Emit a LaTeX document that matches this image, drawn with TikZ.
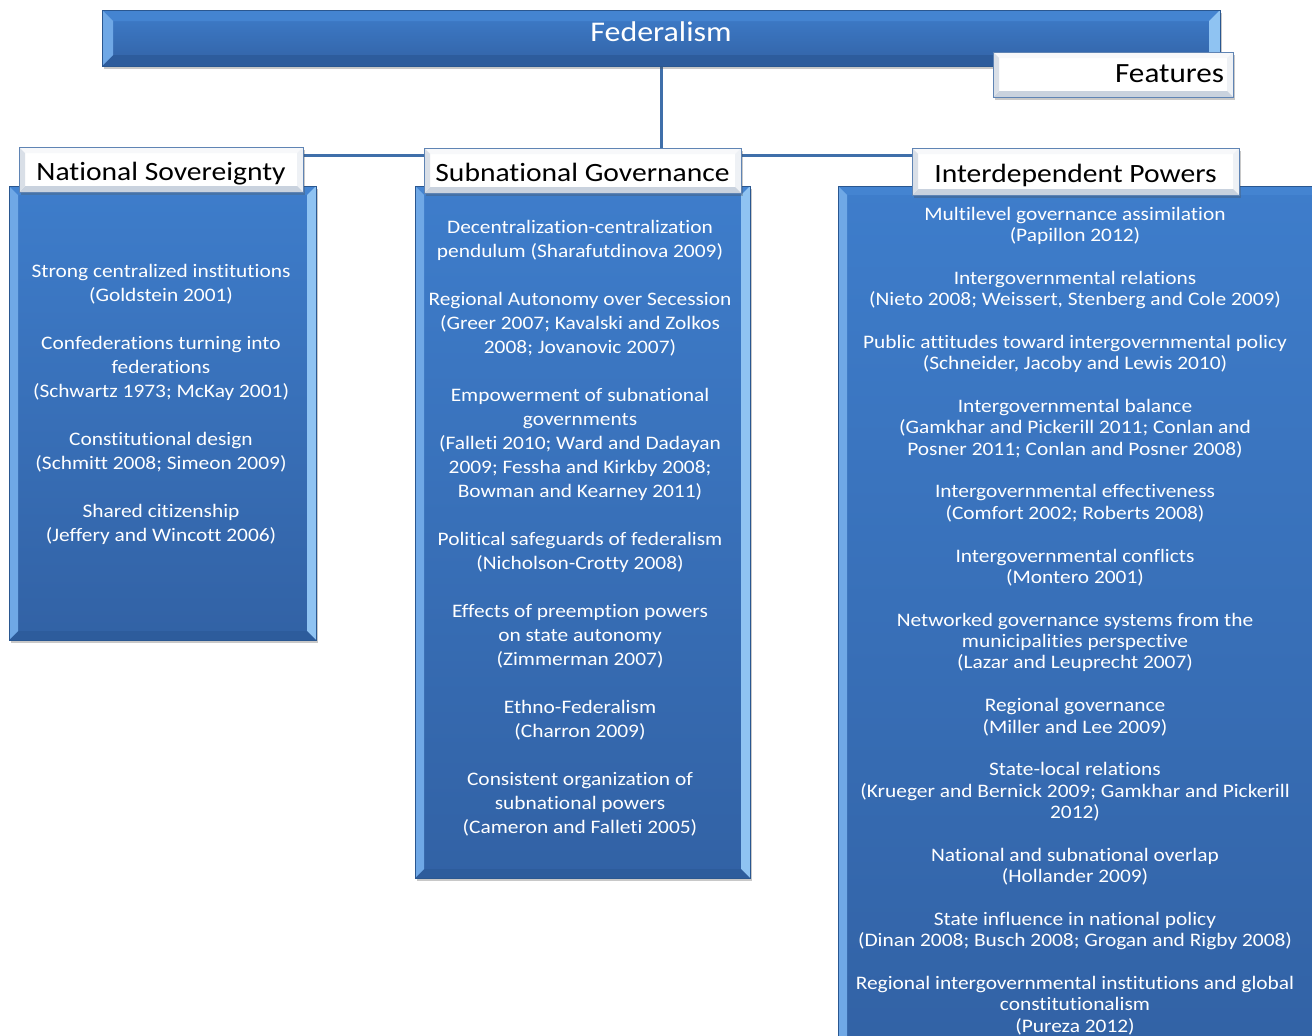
\documentclass[tikz,border=0pt]{standalone}
\usepackage{fontspec}
\setmainfont{Carlito}[FakeStretch=1.12, Ligatures={NoCommon}]
\usetikzlibrary{shadows,calc}
\pgfdeclarelayer{bg}
\pgfsetlayers{bg,main}
\definecolor{bTop}{HTML}{3E7DCB}
\definecolor{bBot}{HTML}{3262A5}
\definecolor{bFaceL}{HTML}{6FA8E6}
\definecolor{bFaceR}{HTML}{8FC3F2}
\definecolor{bFaceB}{HTML}{2D5C9C}
\definecolor{bFaceT}{HTML}{4484D1}
\definecolor{bBorder}{HTML}{2A5790}
\definecolor{connC}{HTML}{3F6FAA}
\definecolor{wFaceT}{HTML}{F7F8FA}
\definecolor{wFaceL}{HTML}{D9DFE7}
\definecolor{wFaceB}{HTML}{C9D2DE}
\definecolor{wFaceR}{HTML}{EEF1F5}
\definecolor{wBorder}{HTML}{5F84B4}
\begin{document}
\begin{tikzpicture}[x=1pt,y=-1pt,
  bevel/.style n args={5}{path picture={
    \fill[#2] (path picture bounding box.north west) -- (path picture bounding box.north east) -- ([xshift=-#1pt,yshift=-#1pt]path picture bounding box.north east) -- ([xshift=#1pt,yshift=-#1pt]path picture bounding box.north west) -- cycle;
    \fill[#3] (path picture bounding box.north east) -- (path picture bounding box.south east) -- ([xshift=-#1pt,yshift=#1pt]path picture bounding box.south east) -- ([xshift=-#1pt,yshift=-#1pt]path picture bounding box.north east) -- cycle;
    \fill[#4] (path picture bounding box.south east) -- (path picture bounding box.south west) -- ([xshift=#1pt,yshift=#1pt]path picture bounding box.south west) -- ([xshift=-#1pt,yshift=#1pt]path picture bounding box.south east) -- cycle;
    \fill[#5] (path picture bounding box.south west) -- (path picture bounding box.north west) -- ([xshift=#1pt,yshift=-#1pt]path picture bounding box.north west) -- ([xshift=#1pt,yshift=#1pt]path picture bounding box.south west) -- cycle;
  }},
  shadowed/.style={drop shadow={shadow xshift=2pt, shadow yshift=-3pt, opacity=0.3, fill=black!70}},
  blueBody/.style={rectangle, inner sep=0pt, outer sep=0pt, anchor=north west,
    top color=bTop, bottom color=bBot, draw=bBorder, line width=0.6pt, shadowed,
    bevel={9}{bFaceT}{bFaceR}{bFaceB}{bFaceL}},
  fedBar/.style={rectangle, inner sep=0pt, outer sep=0pt, anchor=north west,
    top color=bTop, bottom color=bBot, draw=bBorder, line width=0.6pt, shadowed,
    bevel={11}{bFaceT}{bFaceR}{bFaceB}{bFaceL}},
  whiteHead/.style={rectangle, inner sep=0pt, outer sep=0pt, anchor=north west,
    fill=white, draw=wBorder, line width=0.8pt, shadowed,
    bevel={6}{wFaceT}{wFaceR}{wFaceB}{wFaceL},
    font=\fontsize{26.4}{30}\selectfont, text=black, text height=22pt, text depth=1pt},
  bodyTxt/.style={anchor=north, align=center, text=white, inner sep=0pt},
  connector/.style={draw=connC, line width=3pt},
]
\clip (0,0) rectangle (1312,1036);
\begin{pgfonlayer}{bg}
\fill[white] (0,0) rectangle (1312,1036);
\end{pgfonlayer}

% top bar
\node[fedBar, minimum width=1118pt, minimum height=56pt] (fed) at (102,10) {};
\node[text=white, font=\fontsize{28.5}{32}\selectfont, inner sep=0pt, anchor=base] (fedt) at (661,41.5) {Federalism};
\node[whiteHead, text width=222pt, align=right, inner xsep=9pt, minimum height=45pt,
  font=\fontsize{27.8}{32}\selectfont, text height=18pt, text depth=1.5pt] (feat) at (993,52) {Features};

% bodies
\node[blueBody, minimum width=307pt, minimum height=454pt] (nsb) at (9,186) {};
\node[blueBody, minimum width=335pt, minimum height=692pt] (sgb) at (415,186) {};
\node[blueBody, minimum width=484pt, minimum height=870pt] (ipb) at (838,186) {};

% headers
\node[whiteHead, minimum width=284pt, minimum height=45pt] (nsh) at (19,147) {National Sovereignty};
\node[whiteHead, minimum width=317pt, minimum height=45pt] (sgh) at (424,148) {Subnational Governance};
\node[whiteHead, minimum width=327pt, minimum height=47pt] (iph) at (912,148) {Interdependent Powers};

% connectors
\coordinate (hub) at (661,155);
\begin{pgfonlayer}{bg}
\draw[connector] (fed.south) -- (hub);
\draw[connector] (nsh.east |- hub) -- (iph.west |- hub);
\end{pgfonlayer}

% texts
\node[bodyTxt, font=\fontsize{19.1}{24}\selectfont] (nst) at (161,260) {\strut Strong centralized institutions\\
(Goldstein 2001)\\[24pt]
Confederations turning into\\ federations\\ (Schwartz 1973; McKay 2001)\\[24pt]
Constitutional design\\ (Schmitt 2008; Simeon 2009)\\[24pt]
Shared citizenship\\ (Jeffery and Wincott 2006)};

\node[bodyTxt, font=\fontsize{19.1}{24}\selectfont] (sgt) at (580,216) {\strut Decentralization-centralization\\
pendulum (Sharafutdinova 2009)\\[24pt]
Regional Autonomy over Secession\\ (Greer 2007; Kavalski and Zolkos\\ 2008; Jovanovic 2007)\\[24pt]
Empowerment of subnational\\ governments\\ (Falleti 2010; Ward and Dadayan\\ 2009; Fessha and Kirkby 2008;\\ Bowman and Kearney 2011)\\[24pt]
Political safeguards of federalism\\ (Nicholson-Crotty 2008)\\[24pt]
Effects of preemption powers\\ on state autonomy\\ (Zimmerman 2007)\\[24pt]
Ethno-Federalism\\ (Charron 2009)\\[24pt]
Consistent organization of\\ subnational powers\\ (Cameron and Falleti 2005)};

\node[bodyTxt, font=\fontsize{19.1}{21.37}\selectfont] (ipt) at (1075,205) {\strut Multilevel governance assimilation\\
(Papillon 2012)\\[21.37pt]
Intergovernmental relations\\ (Nieto 2008; Weissert, Stenberg and Cole 2009)\\[21.37pt]
Public attitudes toward intergovernmental policy\\ (Schneider, Jacoby and Lewis 2010)\\[21.37pt]
Intergovernmental balance\\ (Gamkhar and Pickerill 2011; Conlan and\\ Posner 2011; Conlan and Posner 2008)\\[21.37pt]
Intergovernmental effectiveness\\ (Comfort 2002; Roberts 2008)\\[21.37pt]
Intergovernmental conflicts\\ (Montero 2001)\\[21.37pt]
Networked governance systems from the\\ municipalities perspective\\ (Lazar and Leuprecht 2007)\\[21.37pt]
Regional governance\\ (Miller and Lee 2009)\\[21.37pt]
State-local relations\\ (Krueger and Bernick 2009; Gamkhar and Pickerill\\ 2012)\\[21.37pt]
National and subnational overlap\\ (Hollander 2009)\\[21.37pt]
State influence in national policy\\ (Dinan 2008; Busch 2008; Grogan and Rigby 2008)\\[21.37pt]
Regional intergovernmental institutions and global\\ constitutionalism\\ (Pureza 2012)};
\end{tikzpicture}
\end{document}
